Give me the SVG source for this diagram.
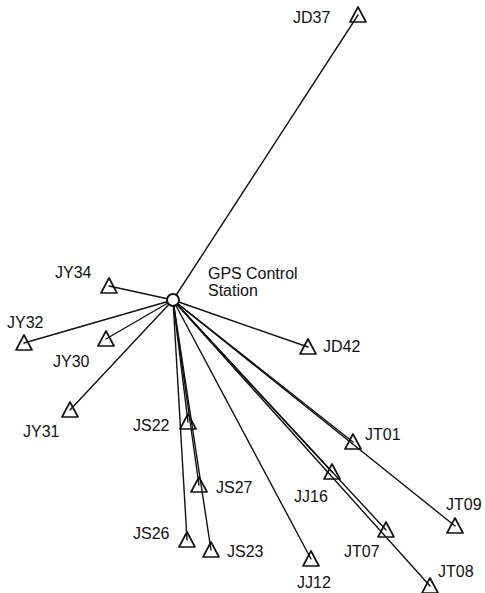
<svg xmlns="http://www.w3.org/2000/svg" width="485" height="593" viewBox="0 0 485 593">
  <style>
    .ln { stroke: #111; stroke-width: 1.4; fill: none; stroke-linecap: round; }
    .tri { stroke: #111; stroke-width: 1.7; fill: none; stroke-linejoin: round; }
    .lbl { font-family: "Liberation Sans", Arial, sans-serif; font-size: 16px; fill: #111; }
    .ctr { stroke: #111; stroke-width: 2; fill: #fff; }
  </style>
  <defs>
    <path id="mark" class="tri" d="M-8,7 L0,-8 L8,7 Z"/>
  </defs>
  <rect width="485" height="593" fill="#fff"/>

  <!-- baselines radiating from the control station -->
  <g id="connectors">
    <line class="ln" x1="173" y1="300" x2="358" y2="15"/>
    <line class="ln" x1="173" y1="300" x2="109" y2="286"/>
    <line class="ln" x1="173" y1="300" x2="24" y2="343"/>
    <line class="ln" x1="173" y1="300" x2="106" y2="339"/>
    <line class="ln" x1="173" y1="300" x2="70" y2="410"/>
    <line class="ln" x1="173" y1="300" x2="308" y2="347"/>
    <line class="ln" x1="173" y1="300" x2="188" y2="422"/>
    <line class="ln" x1="173" y1="300" x2="187" y2="540"/>
    <line class="ln" x1="173" y1="300" x2="199" y2="485"/>
    <line class="ln" x1="173" y1="300" x2="211" y2="550"/>
    <line class="ln" x1="173" y1="300" x2="311" y2="559"/>
    <line class="ln" x1="173" y1="300" x2="332" y2="472"/>
    <line class="ln" x1="173" y1="300" x2="386" y2="530"/>
    <line class="ln" x1="173" y1="300" x2="430" y2="586"/>
    <line class="ln" x1="173" y1="300" x2="353" y2="442"/>
    <line class="ln" x1="173" y1="300" x2="455" y2="526"/>
  </g>

  <g id="station">
    <circle class="ctr" cx="173" cy="300" r="6"/>
    <text class="lbl" x="208" y="279">GPS<tspan x="246">Control</tspan></text>
    <text class="lbl" x="208" y="296">Station</text>
  </g>

  <g id="JD37"><use href="#mark" x="358" y="15"/><text class="lbl" x="293" y="23">JD37</text></g>
  <g id="JY34"><use href="#mark" x="109" y="286"/><text class="lbl" x="55" y="278">JY34</text></g>
  <g id="JY32"><use href="#mark" x="24" y="343"/><text class="lbl" x="7" y="328">JY32</text></g>
  <g id="JY30"><use href="#mark" x="106" y="339"/><text class="lbl" x="53" y="367">JY30</text></g>
  <g id="JY31"><use href="#mark" x="70" y="410"/><text class="lbl" x="23" y="437">JY31</text></g>
  <g id="JD42"><use href="#mark" x="308" y="347"/><text class="lbl" x="323" y="352">JD42</text></g>
  <g id="JS22"><use href="#mark" x="188" y="422"/><text class="lbl" x="133" y="431">JS22</text></g>
  <g id="JS27"><use href="#mark" x="199" y="485"/><text class="lbl" x="216" y="493">JS27</text></g>
  <g id="JS26"><use href="#mark" x="187" y="540"/><text class="lbl" x="133" y="539">JS26</text></g>
  <g id="JS23"><use href="#mark" x="211" y="550"/><text class="lbl" x="227" y="557">JS23</text></g>
  <g id="JJ12"><use href="#mark" x="311" y="559"/><text class="lbl" x="297" y="588">JJ12</text></g>
  <g id="JJ16"><use href="#mark" x="332" y="472"/><text class="lbl" x="294" y="502">JJ16</text></g>
  <g id="JT01"><use href="#mark" x="353" y="442"/><text class="lbl" x="365" y="440">JT01</text></g>
  <g id="JT09"><use href="#mark" x="455" y="526"/><text class="lbl" x="446" y="510">JT09</text></g>
  <g id="JT07"><use href="#mark" x="386" y="530"/><text class="lbl" x="344" y="557">JT07</text></g>
  <g id="JT08"><use href="#mark" x="430" y="586"/><text class="lbl" x="438" y="577">JT08</text></g>
</svg>
